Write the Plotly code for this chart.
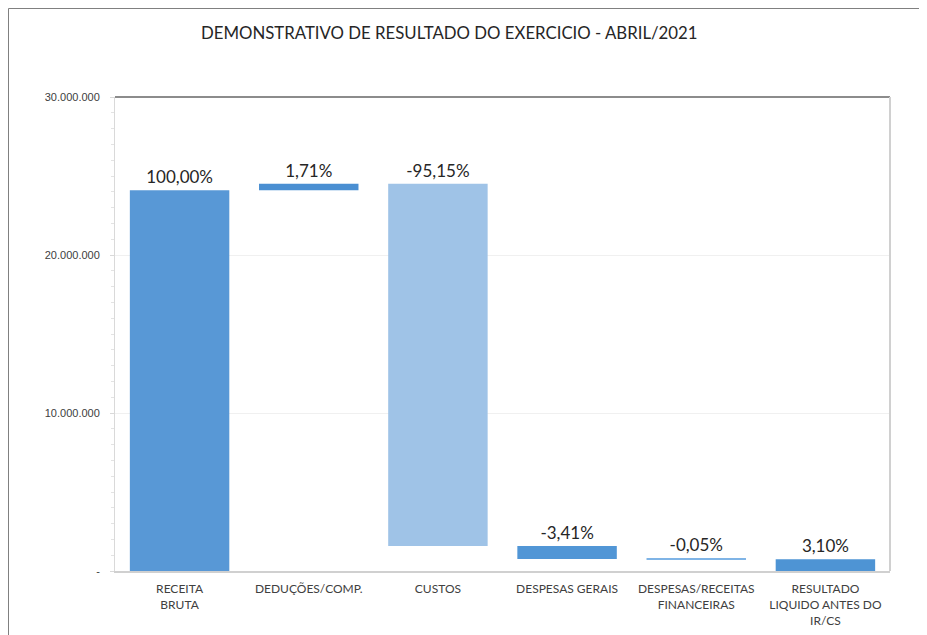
import plotly.graph_objects as go

# dados do DRE (abril/2021)
categorias = ["RECEITA<br>BRUTA", "DEDUÇÕES/COMP.", "CUSTOS", "DESPESAS GERAIS",
              "DESPESAS/RECEITAS<br>FINANCEIRAS", "RESULTADO<br>LIQUIDO ANTES DO<br>IR/CS"]
valores = [24100000, 412000, -22930000, -822000, -12000, 748000]
percentuais = ["100,00%", "1,71%", "-95,15%", "-3,41%", "-0,05%", "3,10%"]
eh_total = [True, False, False, False, False, True]
cores = ["#5898d6", "#4a8fd2", "#9fc3e7", "#5196d6", "#7fb4e6", "#4e94d4"]

# bases e alturas da cascata
bases, alturas = [], []
acumulado = 0
for v, total in zip(valores, eh_total):
    if total:
        bases.append(0)
        alturas.append(v)
        acumulado = v
    else:
        novo = acumulado + v
        bases.append(min(acumulado, novo))
        alturas.append(abs(v))
        acumulado = novo

fig = go.Figure(go.Bar(
    x=categorias,
    y=alturas,
    base=bases,
    marker=dict(color=cores, line=dict(width=0)),
    text=percentuais,
    textposition="outside",
    cliponaxis=False,
    textfont=dict(family="Lato, Open Sans, sans-serif", size=17, color="#262626"),
    hoverinfo="skip",
))

fig.update_layout(
    width=927,
    height=635,
    margin=dict(l=107, r=45, t=89, b=72),
    paper_bgcolor="white",
    plot_bgcolor="white",
    bargap=0.23,
    showlegend=False,
    font=dict(family="Lato, Open Sans, sans-serif", color="#404040"),
    title=dict(
        text="DEMONSTRATIVO DE RESULTADO DO EXERCICIO - ABRIL/2021",
        xref="container", x=0.476, xanchor="center",
        yref="container", y=0.961, yanchor="middle",
        font=dict(family="Lato, Open Sans, sans-serif", size=16.8, color="#262626"),
    ),
    xaxis=dict(
        showline=True, linecolor="#d0d0d0", linewidth=2,
        tickfont=dict(size=12, color="#404040"),
        ticks="", showgrid=False,
        ticklabelstandoff=6,
    ),
    yaxis=dict(
        range=[0, 30000000],
        tickvals=[0, 10000000, 20000000, 30000000],
        ticktext=["-", "10.000.000", "20.000.000", "30.000.000"],
        tickfont=dict(family="Liberation Sans, sans-serif", size=11, color="#404040"),
        showline=True, linecolor="#d9d9d9", linewidth=1,
        showgrid=True, gridcolor="#f0f0f0", gridwidth=1,
        zeroline=False,
        ticks="outside", ticklen=4, tickcolor="#d9d9d9",
        minor=dict(dtick=1000000, ticks="outside", ticklen=3, tickcolor="#e3e3e3", showgrid=False),
        ticklabelstandoff=8,
    ),
    shapes=[
        # moldura do gráfico (topo e lateral esquerda)
        dict(type="line", xref="paper", yref="paper", x0=-0.1374, x1=1.06, y0=1.1867, y1=1.1867,
             line=dict(color="#808080", width=1)),
        dict(type="line", xref="paper", yref="paper", x0=-0.1374, x1=-0.1374, y0=1.1867, y1=-0.2,
             line=dict(color="#808080", width=1)),
        # borda da área de plotagem
        dict(type="line", xref="paper", yref="paper", x0=0, x1=1, y0=1, y1=1,
             line=dict(color="#8c8c8c", width=2)),
        dict(type="line", xref="paper", yref="paper", x0=1, x1=1, y0=0, y1=1,
             line=dict(color="#d0d0d0", width=2)),
    ],
)

fig.write_html("out.html")
